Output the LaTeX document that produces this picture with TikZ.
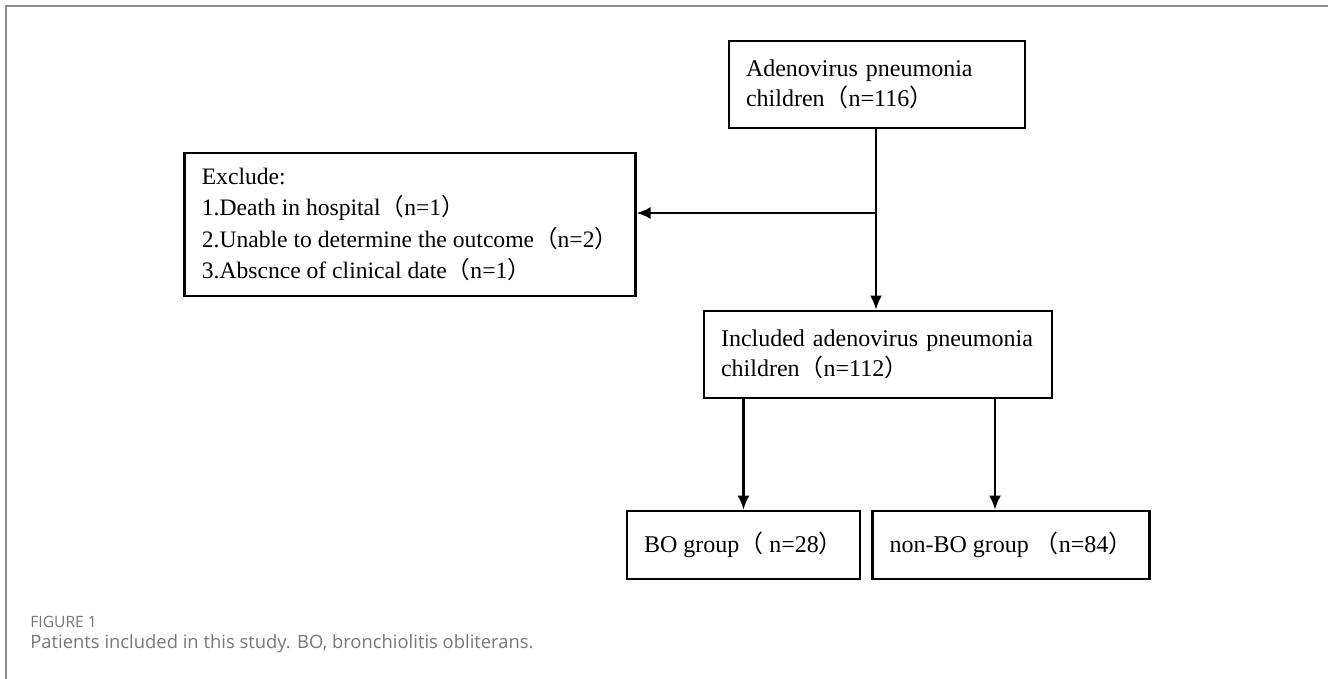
\documentclass[tikz,border=0pt]{standalone}
\usepackage{fontspec}
\setmainfont{Liberation Serif}
\newfontfamily\cjk{Noto Sans CJK SC}
\newfontfamily\capfont{Open Sans}
\usetikzlibrary{arrows.meta}
\newcommand{\fwl}{{\cjk （}}
\newcommand{\fwr}{{\cjk ）}}
\definecolor{framegray}{HTML}{8C8C8C}
\definecolor{capgray}{HTML}{777777}
\tikzset{
  flowbox/.style={draw, line width=1.35pt, rectangle, align=left, inner xsep=8.5pt,
    font=\fontsize{12}{15}\selectfont},
  arr/.style={line width=1.1pt, -{Latex[length=7pt,width=6pt]}}
}
\begin{document}
\begin{tikzpicture}[x=0.5pt, y=-0.5pt]
  \useasboundingbox (0,0) rectangle (1328,679);
  % frame
  \draw[framegray, line width=1pt] (6,679) -- (6,6) -- (1328,6);
  % boxes
  \node[flowbox, minimum width=148pt, minimum height=43.5pt, text width=131pt]
    (start) at (877,84.5) {Adenovirus pneumonia\\children\fwl n=116\fwr};
  \node[flowbox, minimum width=223pt, minimum height=71.5pt,
    font=\fontsize{11.8}{15.8}\selectfont]
    (excl) at (410,224.5) {Exclude:\\1.Death in hospital\fwl n=1\fwr\\
      2.Unable to determine the outcome\fwl n=2\fwr\\3.Abscnce of clinical date\fwl n=1\fwr};
  \node[flowbox, minimum width=174pt, minimum height=43.5pt, text width=157pt]
    (incl) at (878,354.5) {Included adenovirus pneumonia\\children\fwl n=112\fwr};
  \node[flowbox, minimum width=111.5pt, minimum height=34pt]
    (bo) at (743.5,545) {BO group\fwl\ n=28\fwr};
  \node[flowbox, minimum width=135pt, minimum height=34pt]
    (nonbo) at (1011,545) {non-BO group \fwl n=84\fwr};
  % connectors
  \coordinate (branch) at (876,213);
  \draw[arr] (start.south -| branch) -- (incl.north -| branch);
  \draw[arr] (branch) -- (branch -| excl.east);
  \draw[arr] (bo.north |- incl.south) -- (bo.north);
  \draw[arr] ([xshift=-8pt]nonbo.north |- incl.south) -- ([xshift=-8pt]nonbo.north);
  % caption
  \node[anchor=west, inner sep=0pt, text=capgray, font=\capfont\fontsize{7.8}{9}\selectfont]
    (fig) at (30,622) {FIGURE 1};
  \node[anchor=west, inner sep=0pt, text=capgray, font=\capfont\fontsize{9.2}{11}\selectfont]
    (cap) at (30,644) {Patients included in this study. BO, bronchiolitis obliterans.};
\end{tikzpicture}
\end{document}
